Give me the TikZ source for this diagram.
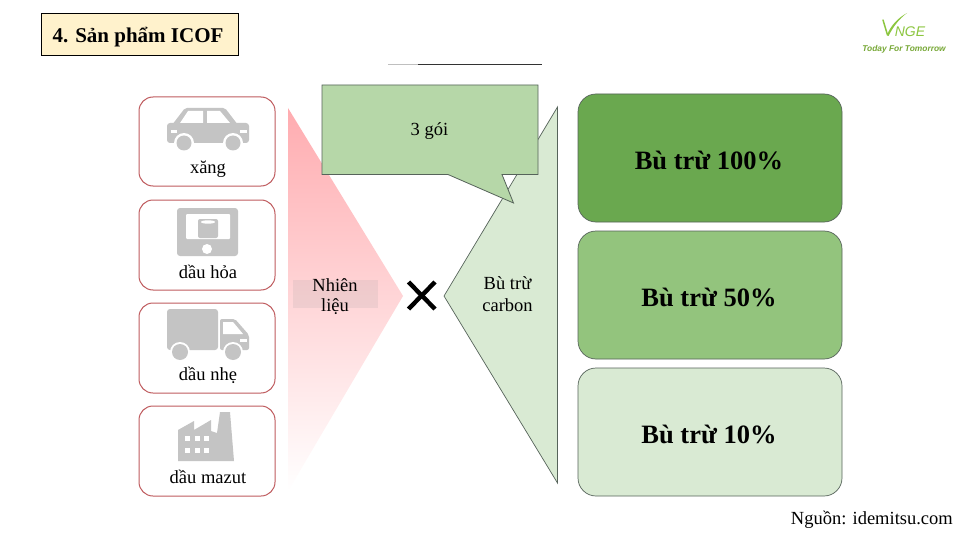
\documentclass[tikz,border=0pt]{standalone}
\usepackage{fontspec}
\setmainfont{Liberation Serif}
\newfontfamily\logofont{Liberation Sans}
\definecolor{iconGray}{HTML}{C4C4C4}
\definecolor{redLine}{HTML}{BF5B5E}
\definecolor{edgeGray}{HTML}{56635A}
\definecolor{logoGreen}{HTML}{8CC63F}
\definecolor{titleFill}{HTML}{FFF2CC}
\definecolor{gDark}{HTML}{6AA84F}
\definecolor{gMid}{HTML}{93C47D}
\definecolor{gLight}{HTML}{D9EAD3}
\definecolor{gCall}{HTML}{B6D7A8}
\definecolor{pinkTop}{HTML}{FFACB0}
\tikzset{
  x=1pt,y=-1pt,
  fuelbox/.style={draw=redLine,line width=1pt,fill=white,rounded corners=14pt},
  offsetbox/.style={draw=edgeGray,line width=0.7pt,rounded corners=18pt,minimum width=264pt,minimum height=128pt,inner sep=0pt},
  lbl/.style={inner sep=0pt,font=\fontsize{18.5}{20}\selectfont,anchor=center},
  biglbl/.style={inner sep=0pt,font=\fontsize{26.5}{30}\selectfont\bfseries,anchor=center},
  icon/.style={fill=iconGray,draw=none},
  iconcut/.style={fill=white,draw=none},
}
\begin{document}
\begin{tikzpicture}
\useasboundingbox (0,0) rectangle (960,540);
\fill[white] (0,0) rectangle (960,540);

% title
\node[draw=black,line width=1pt,fill=titleFill,minimum width=197pt,minimum height=42pt,inner sep=0pt,anchor=center] (title) at (139.5,35) {};
\node[inner sep=0pt,anchor=center,font=\fontsize{21}{24}\selectfont\bfseries] (titletext) at (138,37) {4. Sản phẩm ICOF};

% logo
\draw[logoGreen,line width=1.5pt,line cap=round] (883,20) -- (887.5,35);
\fill[logoGreen] (887,35) .. controls (891,25) and (898,18) .. (907,13) .. controls (899,19) and (893,27) .. (888.5,36) -- cycle;
\node[inner sep=0pt,text=logoGreen,font=\logofont\itshape\fontsize{14}{16}\selectfont] (logoA) at (910,32) {NGE};
\node[inner sep=0pt,text=logoGreen!85!black,font=\logofont\itshape\bfseries\fontsize{8.4}{10}\selectfont] (logoB) at (904,49) {Today For Tomorrow};

% top rule
\draw[lightgray,line width=0.8pt] (388,64) -- (418,64);
\draw[black!80,line width=0.8pt] (418,64) -- (542,64);

% fuel boxes
\draw[fuelbox] (139,97) rectangle (275,186);
\draw[fuelbox] (139,200) rectangle (275,290);
\draw[fuelbox] (139,303) rectangle (275,393);
\draw[fuelbox] (139,406) rectangle (275,496);

% car
\fill[icon,rounded corners=3pt] (167,123) rectangle (249,143);
\fill[icon,rounded corners=2pt] (172,125) -- (185,108) -- (225,108) -- (238,125) -- cycle;
\fill[iconcut] (180,123) -- (188,111) -- (203,111) -- (203,123) -- cycle;
\fill[iconcut] (207,111) -- (220,111) -- (230,123) -- (207,123) -- cycle;
\fill[iconcut] (171,130) rectangle (177,133);
\fill[iconcut] (240,130) rectangle (247,133);
\fill[iconcut] (184,143) circle[radius=10];
\fill[iconcut] (233,143) circle[radius=10];
\fill[icon] (184,143) circle[radius=7.5];
\fill[icon] (233,143) circle[radius=7.5];
\node[lbl] (xang) at (208,169.5) {xăng};

% kerosene
\fill[icon,rounded corners=3pt] (177,208) rectangle (238,256);
\fill[iconcut,rounded corners=1pt] (186,214) rectangle (230,239);
\fill[icon,rounded corners=2pt] (198,219) rectangle (218,238);
\fill[iconcut] (208,222) ellipse[x radius=7,y radius=1.7];
\fill[iconcut] (207,249) circle[radius=5];
\node[lbl] (kero) at (208,272) {dầu hỏa};

% truck
\fill[icon,rounded corners=3pt] (167,309) rectangle (218,350);
\fill[icon,rounded corners=2pt] (220,319) -- (235,319) -- (249,335) -- (249,350) -- (220,350) -- cycle;
\fill[iconcut] (223,322) -- (233,322) -- (243,334) -- (223,334) -- cycle;
\fill[iconcut] (240,339) rectangle (247,342);
\fill[iconcut] (180,352) circle[radius=10];
\fill[iconcut] (233,352) circle[radius=10];
\fill[icon] (180,352) circle[radius=8];
\fill[icon] (233,352) circle[radius=8];
\node[lbl] (light) at (208,375) {dầu nhẹ};

% factory
\fill[icon] (178,430) -- (194,421) -- (194,430) -- (211,420) -- (211,431) -- (217,433) -- (220,412) -- (230,412) -- (234,461) -- (178,461) -- cycle;
\foreach \wx in {185,195,204}{
  \foreach \wy in {436,448}{
    \fill[iconcut] (\wx,\wy) rectangle (\wx+4.5,\wy+5);
  }
}
\node[lbl] (mazut) at (208,477) {dầu mazut};

% fuel triangle
\shade[top color=pinkTop,bottom color=white]
  (288,108) -- (403,296) -- (288,491) -- cycle;
\fill[black!40,opacity=0.15] (293,280) rectangle (378,308);
\node[lbl] (fuel1) at (335,285) {Nhiên};
\node[lbl] (fuel2) at (335,307) {liệu};

% cross
\draw[black,line width=4.4pt] (408.5,282) -- (435,309);
\draw[black,line width=4.4pt] (435,282) -- (408.5,309);

% offset triangle
\draw[fill=gLight,draw=edgeGray,line width=0.7pt] (557.5,107) -- (444,296) -- (557.5,483) -- cycle;
\node[lbl] (off1) at (507.5,283.5) {Bù trừ};
\node[lbl] (off2) at (507.5,305.5) {carbon};

% callout
\draw[fill=gCall,draw=edgeGray,line width=0.8pt] (322,85) -- (538,85) -- (538,174.5) -- (502,174.5) -- (513.5,203) -- (448,174.5) -- (322,174.5) -- cycle;
\node[lbl] (pack) at (429.5,131.5) {3 gói};

% offset boxes
\node[offsetbox,fill=gDark] (b100) at (710,158) {};
\node[offsetbox,fill=gMid] (b50) at (710,295) {};
\node[offsetbox,fill=gLight] (b10) at (710,432) {};
\node[biglbl] at (709,160) {Bù trừ 100\%};
\node[biglbl] at (709,297) {Bù trừ 50\%};
\node[biglbl] at (709,434) {Bù trừ 10\%};

% source
\node[inner sep=0pt,anchor=east,font=\fontsize{18.5}{20}\selectfont] (src) at (953,520) {Nguồn: idemitsu.com};
\end{tikzpicture}
\end{document}
